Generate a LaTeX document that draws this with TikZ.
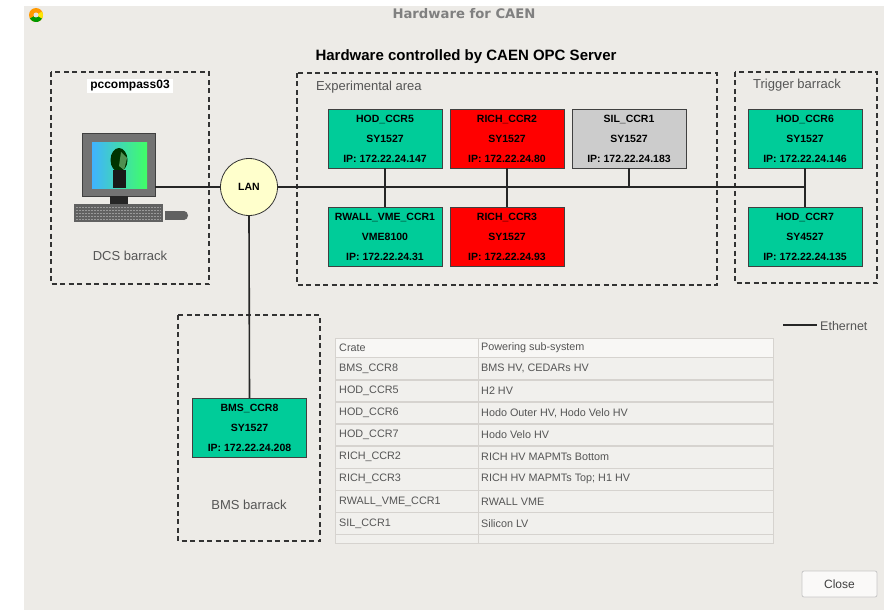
\documentclass[tikz,border=0pt]{standalone}
\usepackage{fontspec}
\setmainfont{Liberation Sans}
\newfontfamily\barfont{DejaVu Sans}
\usetikzlibrary{calc,shapes.geometric}

\definecolor{winbg}{HTML}{EDEBE7}
\definecolor{crategreen}{HTML}{00CC99}
\definecolor{cratered}{HTML}{FF0000}
\definecolor{crategray}{HTML}{CCCCCC}
\definecolor{lanyellow}{HTML}{FFFFCC}
\definecolor{dashcol}{HTML}{333333}
\definecolor{labelgray}{HTML}{555555}
\definecolor{gridline}{HTML}{D6D3CF}

\tikzset{
  crate/.style={draw=black!75, line width=0.8pt, minimum width=114pt, minimum height=59pt,
    inner sep=0pt, align=center, font=\bfseries\fontsize{10.5}{20}\selectfont},
  greencrate/.style={crate, fill=crategreen},
  redcrate/.style={crate, fill=cratered},
  graycrate/.style={crate, fill=crategray},
  zone/.style={draw=dashcol, line width=1.8pt, dash pattern=on 5pt off 3.5pt},
  zonelabel/.style={text=labelgray, font=\fontsize{13}{15}\selectfont, inner sep=0pt},
  wire/.style={draw=black!85, line width=1.6pt},
  celltext/.style={text=labelgray, font=\fontsize{10.8}{12}\selectfont, anchor=west, inner sep=0pt},
}

\begin{document}
\begin{tikzpicture}[x=1pt, y=-1pt]
  \useasboundingbox (0,0) rectangle (884,610);
  % window background
  \fill[white] (0,0) rectangle (884,610);
  \fill[winbg] (24,6) rectangle (884,610);

  % window icon and title
  \fill[orange!80!yellow] (36,15) circle (7pt);
  \fill[green!60!black] (36,15) -- +(-30:7pt) arc (-30:-150:7pt) -- cycle;
  \fill[yellow!90!orange] (36,15) -- +(30:7pt) arc (30:-30:7pt) -- cycle;
  \fill[white!80!gray] (36,15) circle (2.5pt);
  \node[text=black!50, font=\barfont\bfseries\fontsize{13.2}{15}\selectfont] (wintitle) at (464,14) {Hardware for CAEN};

  \node[font=\bfseries\fontsize{15}{17}\selectfont] (heading) at (466,57) {Hardware controlled by CAEN OPC Server};

  % location zones
  \draw[zone] (51,72) rectangle (209,284);
  \draw[zone] (297,73) rectangle (717,285);
  \draw[zone] (735,72) rectangle (877,283);
  \draw[zone] (178,315) rectangle (320,541);

  \node[zonelabel] (lblexp) at (316,87) [anchor=west] {Experimental area};
  \node[zonelabel] (lbltrig) at (753,85) [anchor=west] {Trigger barrack};
  \node[zonelabel] (lbldcs) at (130,256) {DCS barrack};
  \node[zonelabel] (lblbms) at (249,505) {BMS barrack};
  \node[fill=white, inner xsep=3pt, inner ysep=2pt, font=\bfseries\fontsize{12}{14}\selectfont] (host) at (130,86) {pccompass03};

  % workstation
  \node[draw=black!75, fill=black!55, line width=0.8pt, minimum width=73pt, minimum height=63pt, inner sep=0pt] (monitor) at (118.5,164.5) {};
  \shade[left color=cyan!60!blue!75!white, right color=green!80!cyan!75!white] (92,142) rectangle (147,188);
  \fill[black!80!green] (119,160) ellipse (8.5pt and 12pt);
  \fill[green!30!white, opacity=0.45] (121,152) -- (127,158) -- (124,170) -- (119,166) -- cycle;
  \fill[black!90] (113,170) rectangle (126,188);
  \fill[black!85] (110,196) rectangle (128,204);
  \fill[black!62] (74,204) rectangle (163,222);
  \foreach \ky in {207,210,213,216,219}
    \draw[black!40, line width=0.5pt, dash pattern=on 2pt off 1pt] (76,\ky) -- (161,\ky);
  \fill[black!62] (165,211) rectangle (184,220);
  \fill[black!62] (184,215.5) ellipse (4pt and 4.5pt);

  % network hub
  \node[circle, draw=black!80, line width=0.8pt, fill=lanyellow, minimum size=57pt, inner sep=0pt,
        font=\bfseries\fontsize{10.5}{12}\selectfont] (lan) at (249,187) {LAN};

  % crates
  \node[greencrate] (hod5) at (385,138.5) {HOD\_CCR5\\SY1527\\IP: 172.22.24.147};
  \node[redcrate] (rich2) at (507,138.5) {RICH\_CCR2\\SY1527\\IP: 172.22.24.80};
  \node[graycrate] (sil1) at (629,138.5) {SIL\_CCR1\\SY1527\\IP: 172.22.24.183};
  \node[greencrate] (rwall) at (385,237) {RWALL\_VME\_CCR1\\VME8100\\IP: 172.22.24.31};
  \node[redcrate] (rich3) at (507,237) {RICH\_CCR3\\SY1527\\IP: 172.22.24.93};
  \node[greencrate] (hod6) at (805,138.5) {HOD\_CCR6\\SY1527\\IP: 172.22.24.146};
  \node[greencrate] (hod7) at (805,237) {HOD\_CCR7\\SY4527\\IP: 172.22.24.135};
  \node[greencrate] (bms8) at (249.5,428) {BMS\_CCR8\\SY1527\\IP: 172.22.24.208};

  % ethernet links
  \coordinate (busend) at (805,187);
  \draw[wire] (monitor.east |- lan.west) -- (lan.west);
  \draw[wire] (lan.east) -- (busend);
  \draw[wire] (hod5.south) -- (rwall.north);
  \draw[wire] (rich2.south) -- (rich3.north);
  \draw[wire] (sil1.south) -- (sil1.south |- busend);
  \draw[wire] (hod6.south) -- (hod7.north);
  \draw[wire] (lan.south) -- (bms8.north);

  % legend
  \coordinate (legA) at (783,325);
  \coordinate (legB) at (817,325);
  \draw[wire] (legA) -- (legB);
  \node[text=labelgray, font=\fontsize{12.5}{14}\selectfont, anchor=west, inner sep=0pt] (legtext) at (820,326) {Ethernet};

  % crate table
  \fill[white!60!winbg] (335,338) rectangle (773,357.5);
  \fill[white!25!winbg] (335,357.5) rectangle (773,543);
  \draw[gridline, line width=1pt] (335,338) rectangle (773,543);
  \draw[gridline, line width=1pt] (478,338) -- (478,543);
  \foreach \ry in {357.5,380,402,424,446,468.5,490.5,512.5,534.5}
    \draw[gridline, line width=1.4pt] (335,\ry) -- (773,\ry);
  \node[celltext] (h1) at (339,347.5) {Crate};
  \node[celltext] (h2) at (481,347.5) {Powering sub-system};
  \foreach \nm/\sys [count=\i] in {BMS\_CCR8/{BMS HV, CEDARs HV}, HOD\_CCR5/{H2 HV},
      HOD\_CCR6/{Hodo Outer HV, Hodo Velo HV}, HOD\_CCR7/{Hodo Velo HV},
      RICH\_CCR2/{RICH HV MAPMTs Bottom}, RICH\_CCR3/{RICH HV MAPMTs Top; H1 HV},
      RWALL\_VME\_CCR1/{RWALL VME}, SIL\_CCR1/{Silicon LV}} {
    \node[celltext] (c\i) at (339,{346.6+22.1*\i}) {\nm};
    \node[celltext] (s\i) at (481,{346.6+22.1*\i}) {\sys};
  }

  % close button
  \node[draw=black!22, fill=white!70!winbg, rounded corners=2pt, line width=0.8pt,
        minimum width=75pt, minimum height=26pt, inner sep=0pt, text=black!75,
        font=\fontsize{12}{14}\selectfont] (closebtn) at (839.5,584) {Close};
\end{tikzpicture}
\end{document}
